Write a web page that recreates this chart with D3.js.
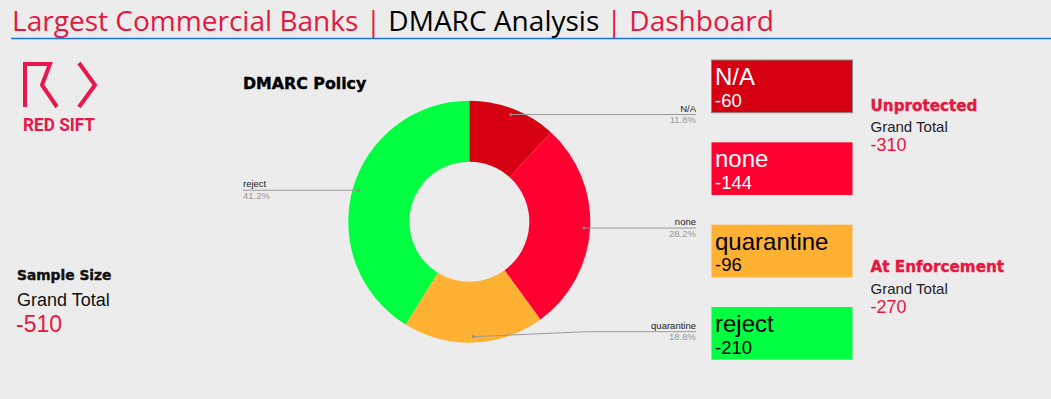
<!DOCTYPE html>
<html>
<head>
<meta charset="utf-8">
<script src="https://cdn.jsdelivr.net/npm/d3@7"></script>
<style>
  body { margin: 0; background: #ececec; }
  svg { display: block; }
</style>
</head>
<body>
<div id="chart"></div>
<script>
// data
const policies = ["N/A", "none", "quarantine", "reject"];
const counts = [60, 144, 96, 210];
const sliceColors = ["#d60013", "#ff0030", "#ffb134", "#00ff40"];
const boxTextColors = ["#ffffff", "#ffffff", "#000000", "#000000"];
const summaryTitles = ["Unprotected", "At Enforcement"];
const summaryValues = [-310, -270];
const sampleTotal = -510;

const width = 1051, height = 399;
const red = "#e6173f";

const svg = d3.select("#chart").append("svg")
  .attr("width", width)
  .attr("height", height);

svg.append("rect").attr("width", width).attr("height", height).attr("fill", "#ececec");

// header
const title = svg.append("text")
  .attr("x", 12).attr("y", 31)
  .attr("textLength", 762)
  .attr("lengthAdjust", "spacingAndGlyphs")
  .style("font-family", "'Open Sans', sans-serif")
  .style("font-size", "27px");
title.append("tspan").attr("fill", red).text("Largest Commercial Banks | ");
title.append("tspan").attr("fill", "#000").text("DMARC Analysis");
title.append("tspan").attr("fill", red).text(" | Dashboard");

svg.append("line")
  .attr("x1", 11).attr("x2", width)
  .attr("y1", 38.5).attr("y2", 38.5)
  .attr("stroke", "#1a73e8").attr("stroke-width", 1.5);

// logo
const logo = svg.append("g")
  .attr("fill", "none").attr("stroke", "#e8174c").attr("stroke-width", 4);
logo.append("path").attr("d", "M25,107 V64 H50 L42,85 L57,107");
logo.append("path").attr("d", "M79,63 L95,85 L79,107");
svg.append("text")
  .attr("x", 23).attr("y", 131)
  .attr("textLength", 72).attr("lengthAdjust", "spacingAndGlyphs")
  .attr("fill", "#e8174c")
  .style("font-family", "Roboto, sans-serif").style("font-weight", 700)
  .style("font-size", "17.5px")
  .text("RED SIFT");

// heavy headings (DejaVu bold with a thin outline to thicken it)
function heading(sel, size, color) {
  return sel.style("font-family", "'DejaVu Sans', sans-serif").style("font-weight", 700)
    .style("font-size", size).attr("fill", color)
    .attr("stroke", color).attr("stroke-width", 0.4);
}

// sample size
heading(svg.append("text").attr("x", 17).attr("y", 280), "13.8px", "#111").text("Sample Size");
svg.append("text").attr("x", 17).attr("y", 306)
  .style("font-family", "'Liberation Sans', Arial, sans-serif")
  .style("font-size", "18px").attr("fill", "#111").text("Grand Total");
svg.append("text").attr("x", 16).attr("y", 332)
  .style("font-family", "'Liberation Sans', Arial, sans-serif")
  .style("font-size", "23px").attr("fill", red).text(sampleTotal);

// donut
const data = policies.map((p, i) => ({ policy: p, value: counts[i], color: sliceColors[i] }));
const total = d3.sum(counts);
const cx = 469.3, cy = 221.7, rOuter = 121, rInner = 60;

heading(svg.append("text").attr("x", 243).attr("y", 89), "15.8px", "#000").text("DMARC Policy");

const pie = d3.pie().sort(null).value(d => d.value);
const arc = d3.arc().innerRadius(rInner).outerRadius(rOuter);
const pointArc = d3.arc().innerRadius(115).outerRadius(115);
const arcs = pie(data);

const donut = svg.append("g").attr("transform", `translate(${cx},${cy})`);
donut.selectAll("path.slice")
  .data(arcs)
  .enter().append("path")
  .attr("class", "slice")
  .attr("d", arc)
  .attr("fill", d => d.data.color);

const pct = d3.format(".1%");
const labelRight = 696 - cx, labelLeft = 243 - cx;

const labels = donut.selectAll("g.label")
  .data(arcs)
  .enter().append("g").attr("class", "label");

labels.each(function(d) {
  const g = d3.select(this);
  const [px, py] = pointArc.centroid(d);
  const mid = (d.startAngle + d.endAngle) / 2;
  const right = mid < Math.PI;
  const ly = Math.max(-110, Math.min(110, py));
  const ex = right ? 117 : -117;
  const lx = right ? labelRight : labelLeft;
  g.append("polyline")
    .attr("points", [[px, py], [ex, ly], [lx, ly]].map(p => p.join(",")).join(" "))
    .attr("fill", "none").attr("stroke", "#999").attr("stroke-width", 1);
  g.append("circle").attr("cx", px).attr("cy", py).attr("r", 1.5).attr("fill", "#888");
  g.append("text").attr("x", lx).attr("y", ly - 2.8)
    .attr("text-anchor", right ? "end" : "start")
    .style("font-family", "'Liberation Sans', Arial, sans-serif")
    .style("font-size", "9.5px").attr("fill", "#222")
    .text(d.data.policy);
  g.append("text").attr("x", lx).attr("y", ly + 8.6)
    .attr("text-anchor", right ? "end" : "start")
    .style("font-family", "'Liberation Sans', Arial, sans-serif")
    .style("font-size", "9.5px").attr("fill", "#999")
    .text(pct(d.data.value / total));
});

// scorecards
const y = d3.scaleBand().domain(policies).range([60, 359.7]).paddingInner(0.36);
const boxX = 711.5, boxW = 141;

const cards = svg.selectAll("g.card")
  .data(data)
  .enter().append("g").attr("class", "card")
  .attr("transform", d => `translate(${boxX},${y(d.policy)})`);

cards.append("rect")
  .attr("width", boxW).attr("height", y.bandwidth())
  .attr("fill", d => d.color)
  .attr("stroke", (d, i) => i === 0 ? "#8a8a8a" : "none");

cards.append("text").attr("x", 3.5).attr("y", 25)
  .style("font-family", "'Liberation Sans', Arial, sans-serif")
  .style("font-size", "24px")
  .attr("fill", (d, i) => boxTextColors[i])
  .text(d => d.policy);

cards.append("text").attr("x", 3.5).attr("y", 46.5)
  .style("font-family", "'Liberation Sans', Arial, sans-serif")
  .style("font-size", "18.5px")
  .attr("fill", (d, i) => boxTextColors[i])
  .text(d => "-" + d.value);

// summaries
const summaryY = [110.7, 272.3];
summaryTitles.forEach((t, i) => {
  const g = svg.append("g").attr("transform", `translate(870.5,${summaryY[i]})`);
  heading(g.append("text"), "15.2px", red).text(t);
  g.append("text").attr("y", 21.7)
    .style("font-family", "'Liberation Sans', Arial, sans-serif")
    .style("font-size", "15px").attr("fill", "#222").text("Grand Total");
  g.append("text").attr("y", 40.5)
    .style("font-family", "'Liberation Sans', Arial, sans-serif")
    .style("font-size", "18px").attr("fill", red).text(summaryValues[i]);
});
</script>
</body>
</html>
